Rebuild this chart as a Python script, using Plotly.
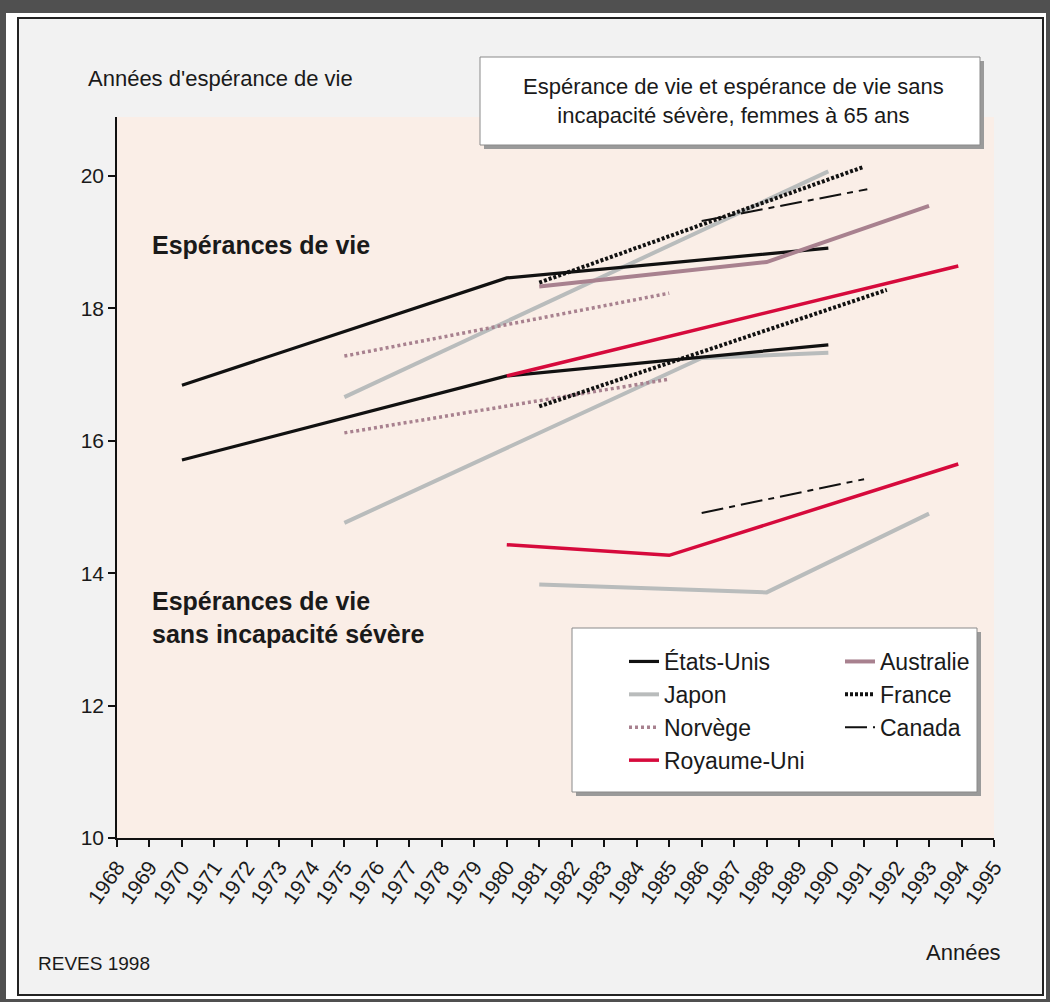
import plotly.graph_objects as go

# ---------------- data ----------------
us_years = [1970, 1980, 1989.9]
us_le = [16.84, 18.46, 18.91]
us_dfle = [15.71, 16.98, 17.45]

japon_le_years = [1975, 1989.9]
japon_le = [16.66, 20.07]
japon_dfle_years = [1975, 1986, 1989.9]
japon_dfle = [14.76, 17.25, 17.33]
japon_dfle2_years = [1981, 1988, 1993]
japon_dfle2 = [13.83, 13.71, 14.90]

norvege_years = [1975, 1985]
norvege_le = [17.28, 18.23]
norvege_dfle = [16.12, 16.93]

ru_le_years = [1980, 1993.9]
ru_le = [16.98, 18.64]
ru_dfle_years = [1980, 1985, 1993.9]
ru_dfle = [14.43, 14.27, 15.65]

australie_years = [1981, 1988, 1993]
australie_le = [18.33, 18.70, 19.55]

france_le_years = [1981, 1991]
france_le = [18.39, 20.14]
france_dfle_years = [1981, 1991.7]
france_dfle = [16.52, 18.28]

canada_le_years = [1986, 1991.1]
canada_le = [19.32, 19.80]
canada_dfle_years = [1986, 1991]
canada_dfle = [14.91, 15.42]

x_ticks = list(range(1968, 1996))
y_ticks = [10, 12, 14, 16, 18, 20]

# ---------------- styling ----------------
FONT = "Liberation Sans, Arial, sans-serif"
TXT = "#1a1a1a"

BLACK = "#111111"
GRAY = "#b9bcbc"
MAUVE = "#a8818f"
RED = "#d60a3c"

FIG_W, FIG_H = 1050, 1002
L, R, T, B = 117, 994, 117, 838


def xp(px):
    return (px - L) / (R - L)


def yp(py):
    return (B - py) / (B - T)


fig = go.Figure()


def add(x, y, name, color, width, dash="solid", legend="legend", show=False, rank=None):
    fig.add_trace(go.Scatter(
        x=x, y=y, mode="lines", name=name, legendgroup=name,
        line=dict(color=color, width=width, dash=dash),
        showlegend=show, legend=legend, legendrank=rank,
        hoverinfo="x+y+name",
    ))


NOR_DASH = "3px,3px"
FR_DASH = "3px,2px"
CA_DASH = "22px,6px,6px,6px"

# draw order (lower first)
add(japon_le_years, japon_le, "Japon", GRAY, 4, show=True, rank=2)
add(japon_dfle_years, japon_dfle, "Japon", GRAY, 4)
add(japon_dfle2_years, japon_dfle2, "Japon", GRAY, 4)
add(us_years, us_le, "États-Unis", BLACK, 3.2, show=True, rank=1)
add(us_years, us_dfle, "États-Unis", BLACK, 3.2)
add(norvege_years, norvege_le, "Norvège", MAUVE, 3.5, NOR_DASH, show=True, rank=3)
add(norvege_years, norvege_dfle, "Norvège", MAUVE, 3.5, NOR_DASH)
add(australie_years, australie_le, "Australie", MAUVE, 4, legend="legend2", show=True, rank=1)
add(ru_le_years, ru_le, "Royaume-Uni", RED, 3.5, show=True, rank=4)
add(ru_dfle_years, ru_dfle, "Royaume-Uni", RED, 3.5)
add(france_le_years, france_le, "France", BLACK, 4, FR_DASH, legend="legend2", show=True, rank=2)
add(france_dfle_years, france_dfle, "France", BLACK, 4, FR_DASH, legend="legend2")
add(canada_le_years, canada_le, "Canada", BLACK, 2, CA_DASH, legend="legend2", show=True, rank=3)
add(canada_dfle_years, canada_dfle, "Canada", BLACK, 2, CA_DASH, legend="legend2")

shapes = [
    # outer light panel
    dict(type="rect", xref="paper", yref="paper", layer="below",
         x0=xp(6), x1=xp(1046), y0=yp(999), y1=yp(13),
         fillcolor="#ffffff", line=dict(width=0)),
    dict(type="rect", xref="paper", yref="paper", layer="below",
         x0=xp(18), x1=xp(1043), y0=yp(995), y1=yp(18),
         fillcolor="#f2f2f2", line=dict(color="#222222", width=2)),
    # plot area background
    dict(type="rect", xref="paper", yref="paper", layer="below",
         x0=0, x1=1, y0=0, y1=1,
         fillcolor="#faeee7", line=dict(width=0)),
    # title box: shadow + box
    dict(type="rect", xref="paper", yref="paper", layer="above",
         x0=xp(484), x1=xp(984), y0=yp(149), y1=yp(61),
         fillcolor="#9a9a9a", line=dict(width=0)),
    dict(type="rect", xref="paper", yref="paper", layer="above",
         x0=xp(480), x1=xp(980), y0=yp(145), y1=yp(57),
         fillcolor="#ffffff", line=dict(color="#8a8a8a", width=1)),
    # legend box: shadow + box
    dict(type="rect", xref="paper", yref="paper", layer="above",
         x0=xp(576), x1=xp(981), y0=yp(796), y1=yp(632),
         fillcolor="#9a9a9a", line=dict(width=0)),
    dict(type="rect", xref="paper", yref="paper", layer="above",
         x0=xp(572), x1=xp(977), y0=yp(792), y1=yp(628),
         fillcolor="#ffffff", line=dict(color="#8a8a8a", width=1)),
]

annotations = [
    dict(text="Années d'espérance de vie", x=xp(86), y=yp(78), xanchor="left", yanchor="middle",
         font=dict(family=FONT, size=22, color=TXT)),
    dict(text="Espérance de vie et espérance de vie sans<br>incapacité sévère, femmes à 65 ans",
         x=xp(733), y=yp(101), xanchor="center", yanchor="middle", align="center",
         font=dict(family=FONT, size=22, color=TXT)),
    dict(text="<b>Espérances de vie</b>", x=xp(150), y=yp(245), xanchor="left", yanchor="middle",
         font=dict(family=FONT, size=25, color=TXT)),
    dict(text="<b>Espérances de vie<br>sans incapacité sévère</b>", x=xp(150), y=yp(617),
         xanchor="left", yanchor="middle", align="left",
         font=dict(family=FONT, size=25, color=TXT)),
    dict(text="REVES 1998", x=xp(36), y=yp(963), xanchor="left", yanchor="middle",
         font=dict(family=FONT, size=19, color=TXT)),
    dict(text="Années", x=xp(1003), y=yp(952), xanchor="right", yanchor="middle",
         font=dict(family=FONT, size=22, color=TXT)),
]
for a in annotations:
    a.update(xref="paper", yref="paper", showarrow=False)

legend_common = dict(
    orientation="v", xanchor="left", yanchor="top",
    bgcolor="rgba(0,0,0,0)", borderwidth=0,
    font=dict(family=FONT, size=23, color=TXT),
    traceorder="normal", tracegroupgap=5, itemwidth=30,
)

fig.update_layout(
    width=FIG_W, height=FIG_H,
    margin=dict(l=L, r=FIG_W - R, t=T, b=FIG_H - B, pad=0),
    paper_bgcolor="#505050",
    plot_bgcolor="#faeee7",
    shapes=shapes,
    annotations=annotations,
    legend=dict(x=xp(624), y=yp(640), **legend_common),
    legend2=dict(x=xp(840), y=yp(640), **legend_common),
    xaxis=dict(
        range=[1968, 1995], tickmode="array", tickvals=x_ticks,
        ticktext=[str(v) for v in x_ticks], tickangle=-55,
        showgrid=False, zeroline=False, showline=True, linecolor="#111111", linewidth=1.5,
        ticks="outside", ticklen=7, tickwidth=1.5, tickcolor="#111111",
        tickfont=dict(family=FONT, size=21, color=TXT),
    ),
    yaxis=dict(
        range=[10, 10 + (B - T) / 66.2], tickmode="array", tickvals=y_ticks,
        ticktext=[str(v) for v in y_ticks],
        showgrid=False, zeroline=False, showline=True, linecolor="#111111", linewidth=1.5,
        ticks="outside", ticklen=7, tickwidth=1.5, tickcolor="#111111",
        tickfont=dict(family=FONT, size=21, color=TXT),
    ),
)

fig.write_html("out.html", config={"displayModeBar": False},
               post_script="document.body.style.margin='0';")
